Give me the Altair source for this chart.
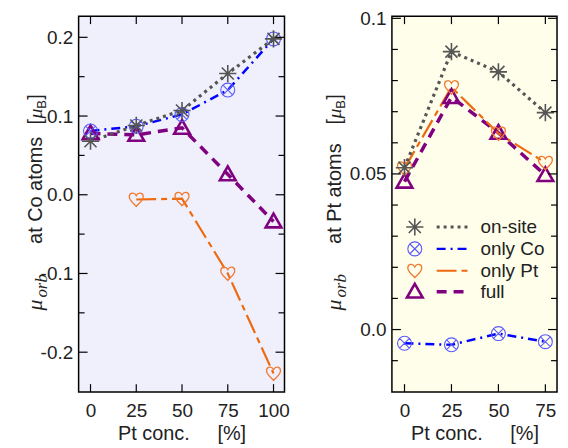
import altair as alt
import pandas as pd

# ---------------- data ----------------
series_names = ["on-site", "only Co", "only Pt", "full"]

conc_co = [0, 25, 50, 75, 100]
co_onsite = [0.068, 0.088, 0.107, 0.154, 0.198]
co_onlyco = [0.081, 0.087, 0.102, 0.133, 0.198]
co_onlypt = [None, -0.006, -0.005, -0.100, -0.227]
co_full = [0.078, 0.076, 0.085, 0.026, -0.034]

conc_pt = [0, 25, 50, 75]
pt_onsite = [0.052, 0.0893, 0.0828, 0.0697]
pt_onlyco = [-0.0044, -0.0049, -0.0013, -0.0039]
pt_onlypt = [0.0518, 0.0779, 0.0630, 0.0536]
pt_full = [0.0475, 0.0747, 0.0632, 0.0496]

x_ticks_co = [0, 25, 50, 75, 100]
x_ticks_pt = [0, 25, 50, 75]
y_major_co = [-0.2, -0.1, 0.0, 0.1, 0.2]
y_minor_co = [-0.15, -0.05, 0.05, 0.15]
y_major_pt = [0.0, 0.05, 0.1]
y_minor_pt = [-0.01, 0.01, 0.02, 0.03, 0.04, 0.06, 0.07, 0.08, 0.09]

# ---------------- styles ----------------
ASTER = "M-1,0L1,0M0,-1L0,1M-0.7,-0.7L0.7,0.7M-0.7,0.7L0.7,-0.7"
CIRCX = "M1,0A1,1,0,1,1,-1,0A1,1,0,1,1,1,0Z M-0.7,-0.7L0.7,0.7M-0.7,0.7L0.7,-0.7"
HEART = ("M0,1 C-0.25,0.65 -1,0.2 -1,-0.4 C-1,-0.95 -0.3,-1.15 0,-0.55 "
         "C0.3,-1.15 1,-0.95 1,-0.4 C1,0.2 0.25,0.65 0,1 Z")
TRI = "M0,-1L1,0.75L-1,0.75Z"

style = {
    "on-site": dict(lc="#555555", dash=[3, 4], lw=3.2, shape=ASTER, mc="#555555", size=300, mw=1.6),
    "only Co": dict(lc="#0000ff", dash=[9, 5, 2, 5], lw=2.5, shape=CIRCX, mc="#5a5aff", size=196, mw=1.1),
    "only Pt": dict(lc="#ee6a10", dash=[20, 5, 6, 5], lw=2.2, shape=HEART, mc="#f07a30", size=196, mw=1.3),
    "full": dict(lc="#800080", dash=[10, 7], lw=3.5, shape=TRI, mc="#800080", size=250, mw=2.6),
}
draw_order = ["full", "only Pt", "only Co", "on-site"]

FONT = "Liberation Sans"
SERIF = "Liberation Serif"
TXT = "#222222"
H = 378


def title_pieces(bx, atom_text):
    one = pd.DataFrame({"k": [0]})
    pieces = [
        # text, start y (view), baseline offset, size, italic, font
        ("\u03bc", 296, 0, 22, True, SERIF),
        ("orb", 283, 5, 17, True, SERIF),
        (atom_text, 229, 0, 20, False, FONT),
        ("[", 109, 0, 20, False, FONT),
        ("\u03bc", 103, 0, 20, True, SERIF),
        ("B", 93, 4, 13, False, FONT),
        ("]", 84, 0, 20, False, FONT),
    ]
    out = []
    for t, ys, off, fs, it, fam in pieces:
        out.append(
            alt.Chart(one).mark_text(
                angle=270, align="left", baseline="alphabetic", fontSize=fs,
                font=fam, fontStyle="italic" if it else "normal", color=TXT,
            ).encode(x=alt.value(bx + off), y=alt.value(ys), text=alt.value(t))
        )
    return out


def panel(xs, lists, xdom, ydom, width, xticks, ymaj, ymin, bg, label_expr,
          atom_text, title_x, legend=False):
    rows = []
    for name, vals in zip(series_names, lists):
        for x, v in zip(xs, vals):
            if v is not None:
                rows.append({"x": x, "y": v, "series": name})
    df = pd.DataFrame(rows)
    xsc = alt.Scale(domain=xdom, nice=False, zero=False)
    ysc = alt.Scale(domain=ydom, nice=False, zero=False)

    xaxis = alt.Axis(values=xticks, title="Pt conc.\u00a0\u00a0\u00a0\u00a0\u00a0[%]",
                     ticks=False, domain=False, grid=False, labelFontSize=19,
                     labelFont=FONT, labelColor=TXT, labelPadding=10,
                     titleFont=FONT, titleFontSize=20, titleFontWeight="normal",
                     titleColor=TXT, titlePadding=3, format="d")
    yaxis = alt.Axis(values=ymaj, title=None, ticks=False, domain=False, grid=False,
                     labelFontSize=19, labelFont=FONT, labelColor=TXT, labelPadding=6,
                     labelExpr=label_expr)

    layers = []
    for name in draw_order:
        s = style[name]
        base = alt.Chart(df).transform_filter(alt.datum.series == name)
        layers.append(
            base.mark_line(color=s["lc"], strokeDash=s["dash"], strokeWidth=s["lw"]).encode(
                x=alt.X("x:Q", scale=xsc, axis=xaxis),
                y=alt.Y("y:Q", scale=ysc, axis=yaxis),
            )
        )
    for name in draw_order:
        s = style[name]
        base = alt.Chart(df).transform_filter(alt.datum.series == name)
        layers.append(
            base.mark_point(shape=s["shape"], filled=False, size=s["size"],
                            strokeWidth=s["mw"], color=s["mc"], opacity=1).encode(
                x=alt.X("x:Q", scale=xsc, axis=xaxis),
                y=alt.Y("y:Q", scale=ysc, axis=yaxis),
            )
        )

    # inward ticks
    for vals, ln in ((ymaj, 9), (ymin, 6)):
        tdf = pd.DataFrame({"y": vals})
        for xa, xb in ((0, ln), (width - ln, width)):
            layers.append(
                alt.Chart(tdf).mark_rule(color="black", strokeWidth=1.2).encode(
                    y=alt.Y("y:Q", scale=ysc, axis=yaxis),
                    x=alt.value(xa), x2=alt.value(xb))
            )
    tdf = pd.DataFrame({"x": xticks})
    for ya, yb in ((0, 8), (H - 8, H)):
        layers.append(
            alt.Chart(tdf).mark_rule(color="black", strokeWidth=1.2).encode(
                x=alt.X("x:Q", scale=xsc, axis=xaxis),
                y=alt.value(ya), y2=alt.value(yb))
        )

    layers += title_pieces(title_x, atom_text)

    if legend:
        one = pd.DataFrame({"k": [0]})
        row_y = [212, 234, 256, 277]
        for name, ry in zip(series_names, row_y):
            s = style[name]
            layers.append(
                alt.Chart(one).mark_point(shape=s["shape"], filled=False, size=s["size"],
                                          strokeWidth=s["mw"], color=s["mc"], opacity=1)
                .encode(x=alt.value(23), y=alt.value(ry))
            )
            layers.append(
                alt.Chart(one).mark_rule(color=s["lc"], strokeDash=s["dash"], strokeWidth=s["lw"])
                .encode(x=alt.value(45), x2=alt.value(78), y=alt.value(ry))
            )
            layers.append(
                alt.Chart(one).mark_text(align="left", baseline="middle", fontSize=19,
                                         font=FONT, color=TXT)
                .encode(x=alt.value(89), y=alt.value(ry), text=alt.value(name))
            )

    return alt.layer(*layers).properties(
        width=width, height=H,
        view=alt.ViewBackground(fill=bg, stroke="black", strokeWidth=1.5),
    )


left = panel(conc_co, [co_onsite, co_onlyco, co_onlypt, co_full], [-6.5, 106],
             [-0.2507, 0.2269], 207, x_ticks_co, y_major_co, y_minor_co, "#f0f0fc",
             "datum.value < 0 ? '-' + format(-datum.value, '.1f') : format(datum.value, '.1f')",
             "at Co atoms", -37)
right = panel(conc_pt, [pt_onsite, pt_onlyco, pt_onlypt, pt_full], [-6.7, 81.2],
              [-0.0201, 0.1007], 166, x_ticks_pt, y_major_pt, y_minor_pt, "#fefeea",
              "datum.value == 0 ? '0.0' : toString(datum.value)",
              "at Pt atoms", -51, legend=True)

chart = alt.hconcat(left, right, spacing=32).properties(
    padding={"left": 15, "top": -1, "right": 0, "bottom": 0}
).configure_view(stroke="black", strokeWidth=1.5)

chart.save("out.html", embed_options={"renderer": "svg", "actions": False})
